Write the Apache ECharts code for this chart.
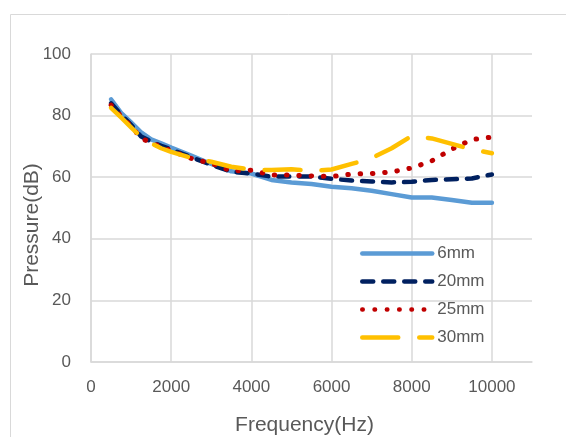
<!DOCTYPE html>
<html>
<head>
<meta charset="utf-8">
<script src="https://cdn.jsdelivr.net/npm/echarts@6/dist/echarts.min.js"></script>
<style>
  html, body { margin: 0; padding: 0; background: #fff; }
  #echarts { width: 566px; height: 437px; }
</style>
</head>
<body>
<div id="echarts"></div>
<script>
// 频率 (Hz)
const freq = [500, 750, 1000, 1250, 1500, 1750, 2000, 2500, 3000, 3500, 4000, 4500, 5000,
  5500, 6000, 6500, 7000, 7500, 8000, 8500, 9000, 9500, 10000]

// 各厚度的声压 (dB)
const p6mm = [85.3, 80.9, 77.8, 74.6, 72.3, 71.0, 69.6, 67.0, 64.3, 61.9, 61.2, 59.1, 58.3,
  57.8, 56.9, 56.4, 55.6, 54.5, 53.4, 53.4, 52.6, 51.7, 51.7]
const p20mm = [84.0, 80.3, 77.0, 73.2, 71.6, 70.2, 69.0, 66.5, 64.0, 61.8, 61.2, 60.2, 60.2,
  60.2, 59.5, 58.9, 58.6, 58.3, 58.5, 59.1, 59.3, 59.6, 60.9]
const p25mm = [83.4, 79.8, 76.6, 72.6, 71.2, 69.8, 68.6, 66.1, 64.5, 62.0, 62.3, 60.7, 60.7,
  60.4, 60.2, 61.0, 61.2, 61.7, 63.0, 65.3, 69.1, 72.2, 73.0]
const p30mm = [82.5, 79.4, 76.2, 73.0, 71.0, 69.4, 68.2, 66.3, 65.0, 63.4, 62.5, 62.3, 62.6,
  62.0, 62.5, 64.3, 66.2, 69.4, 73.4, 72.6, 70.8, 69.0, 67.8]

const seriesNames = ['6mm', '20mm', '25mm', '30mm']
const xTicks = [0, 2000, 4000, 6000, 8000, 10000]

const textColor = '#595959'
const gridColor = '#D9D9D9'
const font = 'Liberation Sans'

const pair = (vals) => freq.map((f, i) => [f, vals[i]])

const option = {
  animation: false,
  graphic: [{
    type: 'rect',
    left: 8,
    top: 12,
    shape: { width: 620, height: 500 },
    style: { fill: 'none', stroke: gridColor, lineWidth: 1 },
  }],
  grid: { left: 91, right: 34, top: 54, bottom: 75, outerBoundsMode: 'none' },
  legend: {
    orient: 'vertical',
    left: 360,
    top: 245,
    padding: 0,
    itemWidth: 70,
    itemHeight: 14,
    itemGap: 11,
    itemStyle: { opacity: 0 },
    lineStyle: { width: 4.5 },
    textStyle: { color: textColor, fontSize: 17, fontFamily: font },
    data: seriesNames,
  },
  xAxis: {
    type: 'value',
    min: 0,
    max: 11000,
    interval: 2000,
    name: 'Frequency(Hz)',
    nameLocation: 'middle',
    nameGap: 53,
    nameTextStyle: { color: textColor, fontSize: 21, fontFamily: font, padding: [0, 14, 0, 0] },
    axisLine: { show: true, lineStyle: { color: gridColor, width: 1.5 } },
    axisTick: { show: false },
    axisLabel: {
      color: textColor, fontSize: 17, fontFamily: font, margin: 17,
      showMaxLabel: false,
      formatter: (v) => (xTicks.includes(v) ? String(v) : ''),
    },
    splitLine: {
      show: true,
      lineStyle: { color: [gridColor, gridColor, gridColor, gridColor, gridColor, gridColor, 'rgba(0,0,0,0)'], width: 1.5 },
    },
  },
  yAxis: {
    type: 'value',
    min: 0,
    max: 100,
    interval: 20,
    name: 'Pressure(dB)',
    nameLocation: 'middle',
    nameGap: 48,
    nameMoveOverlap: false,
    nameTextStyle: { color: textColor, fontSize: 21, fontFamily: font, padding: [0, 34, 0, 0] },
    axisLine: { show: true, lineStyle: { color: gridColor, width: 1.5 } },
    axisTick: { show: false },
    axisLabel: { color: textColor, fontSize: 17, fontFamily: font, margin: 20 },
    splitLine: { show: true, lineStyle: { color: gridColor, width: 1.5 } },
  },
  series: [
    {
      name: '6mm', type: 'line', symbol: 'none', data: pair(p6mm),
      lineStyle: { color: '#5B9BD5', width: 4.5, cap: 'round', join: 'round' },
      itemStyle: { color: '#5B9BD5' },
    },
    {
      name: '20mm', type: 'line', symbol: 'none', data: pair(p20mm),
      lineStyle: { color: '#002060', width: 4.5, type: [11, 10], cap: 'round', join: 'round' },
      itemStyle: { color: '#002060' },
    },
    {
      name: '25mm', type: 'line', symbol: 'none', data: pair(p25mm),
      lineStyle: { color: '#C00000', width: 5, type: [0.5, 11.8], cap: 'round', join: 'round' },
      itemStyle: { color: '#C00000' },
    },
    {
      name: '30mm', type: 'line', symbol: 'none', data: pair(p30mm),
      lineStyle: { color: '#FFC000', width: 4.5, type: [36, 21], cap: 'round', join: 'round' },
      itemStyle: { color: '#FFC000' },
    },
  ],
}

const chart = echarts.init(document.querySelector('#echarts'))
chart.setOption(option)
</script>
</body>
</html>
